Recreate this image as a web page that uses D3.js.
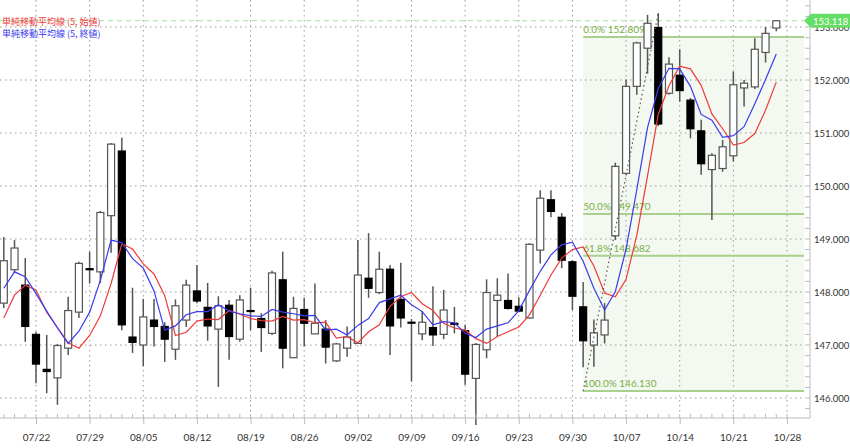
<!DOCTYPE html>
<html>
<head>
<meta charset="utf-8">
<script src="https://cdn.jsdelivr.net/npm/d3@7"></script>
<style>
  body { margin: 0; background: #fff; }
  text { font-family: Lato, "Noto Sans CJK JP", sans-serif; }
</style>
</head>
<body>
<div id="chart"></div>
<script>
var svgWidth = 850;
var svgHeight = 448;
var plotRight = 804;   // grid / fib end
var axisX = 810;       // right price axis
var axisY = 418;       // bottom date axis

// candles 07/17 .. 10/25
var opens = [147.79, 148.42, 148.13, 147.20, 146.54, 146.38, 146.94, 147.62, 148.44, 148.38,
  149.44, 150.66, 147.15, 147.00, 147.47, 147.35, 146.92, 147.47, 148.02, 147.71,
  147.30, 147.75, 147.11, 147.65, 147.50, 147.22, 148.23, 146.76, 147.67, 147.21,
  147.30, 146.70, 146.94, 147.03, 148.26, 147.99, 148.43, 147.86, 147.43, 147.21,
  147.33, 147.20, 147.41, 147.27, 146.37, 146.91, 147.84, 147.84, 147.73, 147.51,
  148.79, 149.74, 149.41, 148.57, 147.72, 147.00, 147.19, 149.06, 150.24, 151.88,
  152.60, 152.99, 151.75, 152.09, 151.62, 151.04, 150.31, 150.33, 150.57, 151.85,
  151.87, 152.52, 152.98];
var highs = [149.04, 148.98, 148.64, 147.25, 147.19, 147.02, 147.91, 148.57, 148.76, 149.53,
  150.81, 150.91, 148.08, 147.87, 147.87, 147.43, 147.86, 148.23, 148.51, 148.17,
  147.92, 147.85, 147.94, 148.08, 147.60, 148.40, 148.76, 147.91, 147.89, 148.16,
  147.47, 147.04, 147.35, 148.98, 149.11, 148.76, 148.51, 148.55, 147.49, 147.64,
  148.11, 148.04, 147.72, 147.38, 147.04, 148.24, 148.26, 148.35, 147.90, 148.92,
  149.92, 149.92, 149.49, 148.60, 148.19, 147.48, 147.79, 150.44, 152.01, 152.72,
  153.23, 153.26, 152.43, 152.58, 151.66, 151.25, 150.62, 150.87, 152.16, 152.00,
  152.79, 153.00, 153.13];
var lows = [147.70, 148.36, 147.06, 146.28, 146.09, 145.87, 146.81, 147.51, 148.16, 148.17,
  148.74, 147.28, 146.85, 146.60, 146.97, 146.68, 146.72, 147.34, 147.79, 147.08,
  146.21, 146.72, 147.06, 147.28, 146.87, 147.19, 146.56, 146.76, 146.97, 147.21,
  146.65, 146.68, 146.78, 147.03, 147.89, 147.96, 146.81, 147.33, 146.31, 147.09,
  146.98, 147.11, 147.22, 146.25, 145.49, 146.75, 147.16, 147.67, 147.62, 147.50,
  148.54, 149.41, 148.45, 147.66, 146.58, 146.59, 147.03, 148.98, 150.21, 151.72,
  152.12, 151.13, 151.72, 151.59, 150.90, 150.21, 149.36, 150.27, 150.46, 151.50,
  151.83, 152.33, 152.92];
var closes = [148.59, 148.83, 147.35, 146.64, 146.50, 146.99, 147.65, 148.54, 148.42, 149.50,
  150.79, 147.38, 147.05, 147.53, 147.35, 147.11, 147.74, 148.13, 147.83, 147.36,
  147.74, 147.16, 147.85, 147.64, 147.33, 148.36, 146.94, 147.69, 147.41, 147.41,
  146.96, 147.02, 147.15, 148.32, 148.07, 148.43, 147.36, 147.51, 147.42, 147.43,
  147.19, 147.66, 147.39, 146.45, 147.01, 147.99, 147.94, 147.69, 147.64, 148.90,
  149.77, 149.52, 148.60, 147.92, 147.08, 147.23, 147.47, 150.37, 151.88, 152.70,
  153.07, 151.17, 152.30, 151.80, 151.08, 150.42, 150.58, 150.74, 151.91, 151.94,
  152.58, 152.88, 153.118];

// 単純移動平均線 (5, 始値)
var maOpen = [147.51, 147.94, 148.13, 148.04, 147.62, 147.33, 147.04, 146.94, 147.18, 147.55,
  148.16, 148.91, 148.81, 148.53, 148.34, 147.93, 147.18, 147.24, 147.45, 147.49,
  147.48, 147.65, 147.58, 147.50, 147.46, 147.45, 147.54, 147.47, 147.48, 147.42,
  147.43, 147.13, 147.16, 147.04, 147.25, 147.38, 147.73, 147.91, 147.99, 147.78,
  147.65, 147.41, 147.32, 147.28, 147.12, 147.03, 147.16, 147.25, 147.34, 147.57,
  147.94, 148.32, 148.64, 148.80, 148.85, 148.49, 147.98, 147.91, 148.24, 149.07,
  150.19, 151.35, 151.89, 152.26, 152.21, 151.90, 151.36, 151.08, 150.77, 150.82,
  150.99, 151.43, 151.96];
// 単純移動平均線 (5, 終値)
var maClose = [148.07, 148.38, 148.29, 147.97, 147.64, 147.32, 147.03, 147.26, 147.62, 148.22,
  148.98, 148.93, 148.63, 148.45, 148.02, 147.28, 147.36, 147.57, 147.63, 147.63,
  147.76, 147.64, 147.59, 147.55, 147.54, 147.67, 147.62, 147.59, 147.55, 147.56,
  147.28, 147.30, 147.19, 147.37, 147.50, 147.80, 147.87, 147.94, 147.76, 147.63,
  147.38, 147.44, 147.42, 147.22, 147.14, 147.30, 147.36, 147.42, 147.65, 148.03,
  148.39, 148.70, 148.89, 148.94, 148.58, 148.07, 147.66, 148.01, 148.81, 149.93,
  151.10, 151.84, 152.22, 152.21, 151.88, 151.35, 151.24, 150.92, 150.95, 151.12,
  151.55, 152.01, 152.49];

var fibLevels = [152.809, 149.470, 148.682, 146.130];
var fibNames = ["0.0%", "50.0%", "61.8%", "100.0%"];
var fibStart = "10/01";
var trendFrom = { date: "10/01", price: 146.130 };
var trendTo = { date: "10/10", price: 153.26 };
var lastPrice = 153.118;
var priceTicks = [146, 147, 148, 149, 150, 151, 152, 153];
var legendNames = ["単純移動平均線 (5, 始値)", "単純移動平均線 (5, 終値)"];
var legendColors = ["#ee3b3b", "#3b3bee"];

// trading days (weekdays) shown on the axis
var parseDate = d3.timeParse("%Y-%m-%d");
var fmtDate = d3.timeFormat("%m/%d");
var days = d3.timeDay.range(parseDate("2024-07-17"), parseDate("2024-10-29"))
  .filter(d => d.getDay() % 6 != 0);
var dates = days.map(fmtDate);
var mondays = days.filter(d => d.getDay() == 1).map(fmtDate);

var candles = closes.map(function(c, i) {
  return { date: dates[i], open: opens[i], high: highs[i], low: lows[i], close: c,
    maOpen: maOpen[i], maClose: maClose[i] };
});

var svg = d3.select("#chart")
  .append("svg")
  .attr("width", svgWidth)
  .attr("height", svgHeight);

var x = d3.scalePoint()
  .domain(dates)
  .range([3.8, 787]);

var y = d3.scaleLinear()
  .domain([146, 153])
  .range([398, 27]);

// fibonacci zone background
var fibLeft = x(fibStart);
svg.append("rect")
  .attr("x", fibLeft)
  .attr("y", y(fibLevels[0]))
  .attr("width", plotRight - fibLeft)
  .attr("height", y(fibLevels[3]) - y(fibLevels[0]))
  .attr("fill", "#f3f9f0");

// grid
svg.append("g").selectAll("line")
  .data(priceTicks)
  .enter().append("line")
  .attr("x1", 0).attr("x2", plotRight)
  .attr("y1", d => y(d)).attr("y2", d => y(d))
  .attr("stroke", "#9a9a9a")
  .attr("stroke-dasharray", "1.5,3.5");

svg.append("g").selectAll("line")
  .data(mondays)
  .enter().append("line")
  .attr("x1", d => x(d)).attr("x2", d => x(d))
  .attr("y1", 0).attr("y2", axisY - 4)
  .attr("stroke", "#9a9a9a")
  .attr("stroke-dasharray", "1.5,3.5");

// fib lines and labels
var fib = svg.append("g");
fib.selectAll("line")
  .data(fibLevels)
  .enter().append("line")
  .attr("x1", fibLeft).attr("x2", plotRight)
  .attr("y1", d => y(d)).attr("y2", d => y(d))
  .attr("stroke", "#a9d08e")
  .attr("stroke-width", 2);
fib.selectAll("text")
  .data(fibLevels)
  .enter().append("text")
  .attr("x", fibLeft)
  .attr("y", d => y(d) - 4)
  .attr("fill", "#79ae45")
  .attr("font-size", "10px")
  .text((d, i) => fibNames[i] + " " + d3.format(".3f")(d));

// current price line
svg.append("line")
  .attr("x1", 0).attr("x2", plotRight)
  .attr("y1", y(lastPrice)).attr("y2", y(lastPrice))
  .attr("stroke", "#98e698")
  .attr("stroke-width", 1.2)
  .attr("stroke-dasharray", "5,4");

// candles
var bw = 7;
var cg = svg.append("g");
cg.selectAll("line")
  .data(candles)
  .enter().append("line")
  .attr("x1", d => x(d.date)).attr("x2", d => x(d.date))
  .attr("y1", d => y(d.high)).attr("y2", d => y(d.low))
  .attr("stroke", "#555")
  .attr("stroke-width", 1.5);
cg.selectAll("rect")
  .data(candles)
  .enter().append("rect")
  .attr("x", d => x(d.date) - bw / 2)
  .attr("y", d => y(Math.max(d.open, d.close)))
  .attr("width", bw)
  .attr("height", d => Math.max(1, Math.abs(y(d.open) - y(d.close))))
  .attr("fill", d => d.close >= d.open ? "#fff" : "#000")
  .attr("stroke", d => d.close >= d.open ? "#555" : "#000")
  .attr("stroke-width", 1.2);

// moving averages
var lineOpen = d3.line().x(d => x(d.date)).y(d => y(d.maOpen));
var lineClose = d3.line().x(d => x(d.date)).y(d => y(d.maClose));
svg.append("path")
  .datum(candles)
  .attr("d", lineOpen)
  .attr("fill", "none")
  .attr("stroke", legendColors[0])
  .attr("stroke-width", 1.2);
svg.append("path")
  .datum(candles)
  .attr("d", lineClose)
  .attr("fill", "none")
  .attr("stroke", legendColors[1])
  .attr("stroke-width", 1.2);

// dotted trend line of the fib drawing
svg.append("line")
  .attr("x1", x(trendFrom.date)).attr("y1", y(trendFrom.price))
  .attr("x2", x(trendTo.date)).attr("y2", y(trendTo.price))
  .attr("stroke", "#555")
  .attr("stroke-width", 1.2)
  .attr("stroke-dasharray", "1.5,3");

// right price axis
var minorTicks = d3.range(145.8, 153.5, 0.2);
var yAxis = d3.axisRight(y)
  .tickValues(priceTicks)
  .tickSize(0)
  .tickPadding(4)
  .tickFormat(d3.format(".3f"));
var ya = svg.append("g")
  .attr("transform", `translate(${axisX},0)`)
  .call(yAxis);
ya.select(".domain").remove();
ya.selectAll("text").attr("font-size", "9.5px").attr("fill", "#333")
  .style("font-family", "Lato, sans-serif");
svg.append("line")
  .attr("x1", axisX).attr("x2", axisX)
  .attr("y1", 0).attr("y2", axisY)
  .attr("stroke", "#bbb");
svg.append("g").selectAll("line")
  .data(minorTicks)
  .enter().append("line")
  .attr("x1", axisX - 5).attr("x2", axisX)
  .attr("y1", d => y(d)).attr("y2", d => y(d))
  .attr("stroke", "#bbb");

// bottom date axis
var xAxis = d3.axisBottom(x)
  .tickValues(mondays)
  .tickSize(6)
  .tickPadding(10);
var xa = svg.append("g")
  .attr("transform", `translate(0,${axisY})`)
  .call(xAxis);
xa.select(".domain").remove();
xa.selectAll(".tick line").attr("stroke", "#bbb");
xa.selectAll("text").attr("font-size", "10px").attr("fill", "#333")
  .style("font-family", "Lato, sans-serif");
svg.append("line")
  .attr("x1", 0).attr("x2", axisX)
  .attr("y1", axisY).attr("y2", axisY)
  .attr("stroke", "#bbb");
svg.append("g").selectAll("line")
  .data(dates)
  .enter().append("line")
  .attr("x1", d => x(d)).attr("x2", d => x(d))
  .attr("y1", axisY - 4).attr("y2", axisY)
  .attr("stroke", "#bbb");

// last price tag
var ty = y(lastPrice);
svg.append("path")
  .attr("d", `M${plotRight},${ty} L${plotRight + 7},${ty - 7} L${svgWidth},${ty - 7} L${svgWidth},${ty + 7} L${plotRight + 7},${ty + 7} Z`)
  .attr("fill", "#66dd66");
svg.append("text")
  .attr("x", plotRight + 9)
  .attr("y", ty + 4)
  .attr("fill", "#fff")
  .attr("font-size", "9.5px")
  .text(d3.format(".3f")(lastPrice));

// legend
svg.append("g").selectAll("text")
  .data(legendNames)
  .enter().append("text")
  .attr("x", 2)
  .attr("y", (d, i) => 25 + i * 12)
  .attr("fill", (d, i) => legendColors[i])
  .attr("font-size", "9px")
  .style("font-family", "'Noto Sans CJK JP', sans-serif")
  .text(d => d);
</script>
</body>
</html>
